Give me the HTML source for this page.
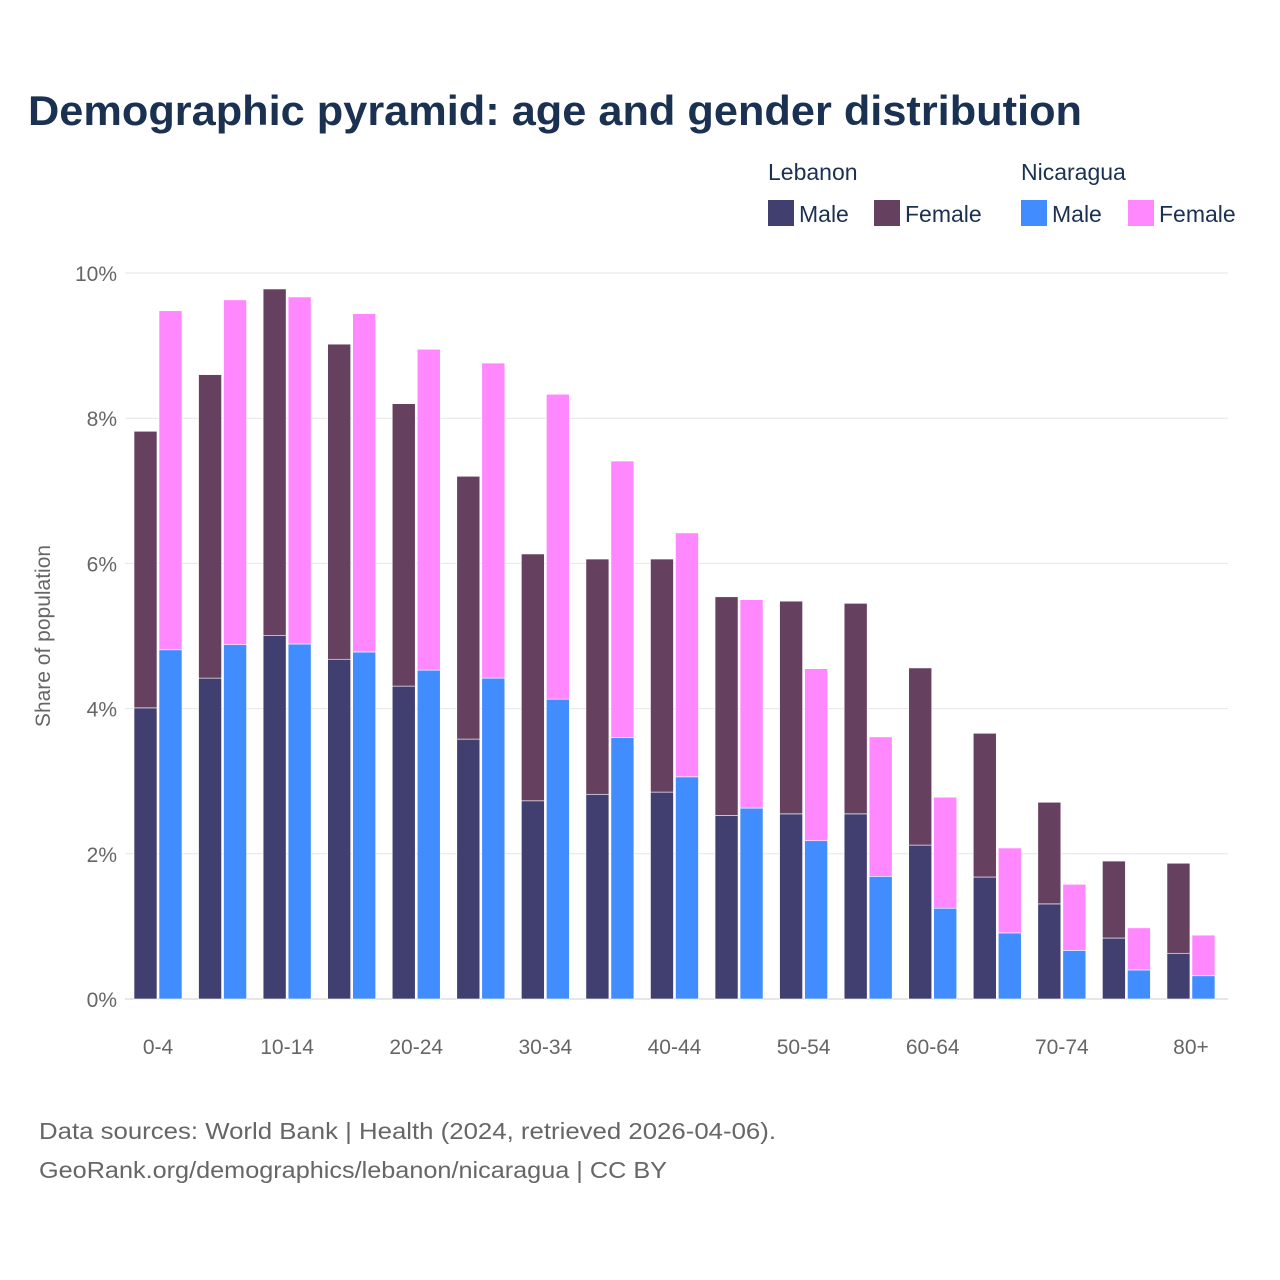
<!DOCTYPE html>
<html><head><meta charset="utf-8"><style>
body{margin:0;background:#fff;font-family:"Liberation Sans",sans-serif}
svg{display:block}
</style></head><body>
<svg id="c" width="1280" height="1280">
<text x="28" y="125" font-size="42" font-weight="bold" fill="#1b3152" textLength="1054" lengthAdjust="spacingAndGlyphs">Demographic pyramid: age and gender distribution</text>
<g font-size="23" fill="#1b3152">
<text x="768" y="180">Lebanon</text>
<text x="1021" y="180">Nicaragua</text>
<rect x="768" y="200" width="26" height="26" fill="#413F70"/>
<text x="799" y="222">Male</text>
<rect x="874" y="200" width="26" height="26" fill="#66405F"/>
<text x="905" y="222">Female</text>
<rect x="1021" y="200" width="26" height="26" fill="#418CFF"/>
<text x="1052" y="222">Male</text>
<rect x="1128" y="200" width="26" height="26" fill="#FF88FF"/>
<text x="1159" y="222">Female</text>
</g>
<text transform="translate(50,636) rotate(-90)" text-anchor="middle" font-size="21" fill="#666">Share of population</text>
<g id="grid"></g><g id="bars"></g><g id="ticks"></g>
<g font-size="23" fill="#666">
<text x="39" y="1139" textLength="737" lengthAdjust="spacingAndGlyphs">Data sources: World Bank | Health (2024, retrieved 2026-04-06).</text>
<text x="39" y="1178" textLength="628" lengthAdjust="spacingAndGlyphs">GeoRank.org/demographics/lebanon/nicaragua | CC BY</text>
</g>
</svg>
<script>
const categories=["0-4","5-9","10-14","15-19","20-24","25-29","30-34","35-39","40-44","45-49","50-54","55-59","60-64","65-69","70-74","75-79","80+"];
const lebMale=[4.01,4.42,5.01,4.68,4.31,3.58,2.73,2.82,2.85,2.53,2.55,2.55,2.12,1.68,1.31,0.84,0.63];
const lebFemale=[3.81,4.18,4.77,4.34,3.89,3.62,3.40,3.24,3.21,3.01,2.93,2.90,2.44,1.98,1.40,1.06,1.24];
const nicMale=[4.81,4.88,4.89,4.78,4.53,4.42,4.13,3.60,3.06,2.63,2.18,1.69,1.25,0.91,0.67,0.40,0.32];
const nicFemale=[4.67,4.75,4.78,4.66,4.42,4.34,4.20,3.81,3.36,2.87,2.37,1.92,1.53,1.17,0.91,0.58,0.56];
const yTicks=[0,2,4,6,8,10];
const xLabelIdx=[0,2,4,6,8,10,12,14,16];
const NS="http://www.w3.org/2000/svg";
const y=v=>999-v*72.6;
const xc=i=>158+i*64.56;
function mk(tag,attrs,parent){const e=document.createElementNS(NS,tag);for(const k in attrs)e.setAttribute(k,attrs[k]);parent.appendChild(e);return e;}
const grid=document.getElementById('grid'),bars=document.getElementById('bars'),ticks=document.getElementById('ticks');
yTicks.forEach(t=>{
 const l=mk('line',{x1:125,x2:1228,y1:y(t),y2:y(t),stroke:t===0?'#ccc':'#e6e6e6','stroke-width':1},grid);
 
 
 const tx=mk('text',{x:117,y:y(t)+8,'text-anchor':'end','font-size':21,fill:'#666'},ticks);
 tx.textContent=t+'%';
 
 
});
xLabelIdx.forEach(i=>{
 const tx=mk('text',{x:xc(i),y:1054,'text-anchor':'middle','font-size':21,fill:'#666'},ticks);
 tx.textContent=categories[i];
 
 
});
function stack(i,x,m,f,cm,cf,name){
 const r1=mk('rect',{x:x,y:y(m),width:23,height:y(0)-y(m),fill:cm,stroke:'#fff','stroke-width':0.6},bars);
 
 
 const r2=mk('rect',{x:x,y:y(m+f),width:23,height:y(m)-y(m+f),fill:cf,stroke:'#fff','stroke-width':0.6},bars);
 
 
}
categories.forEach((c,i)=>{
 stack(i,xc(i)-24,lebMale[i],lebFemale[i],'#413F70','#66405F','lebanon');
 stack(i,xc(i)+1,nicMale[i],nicFemale[i],'#418CFF','#FF88FF','nicaragua');
});
</script>
</body></html>
